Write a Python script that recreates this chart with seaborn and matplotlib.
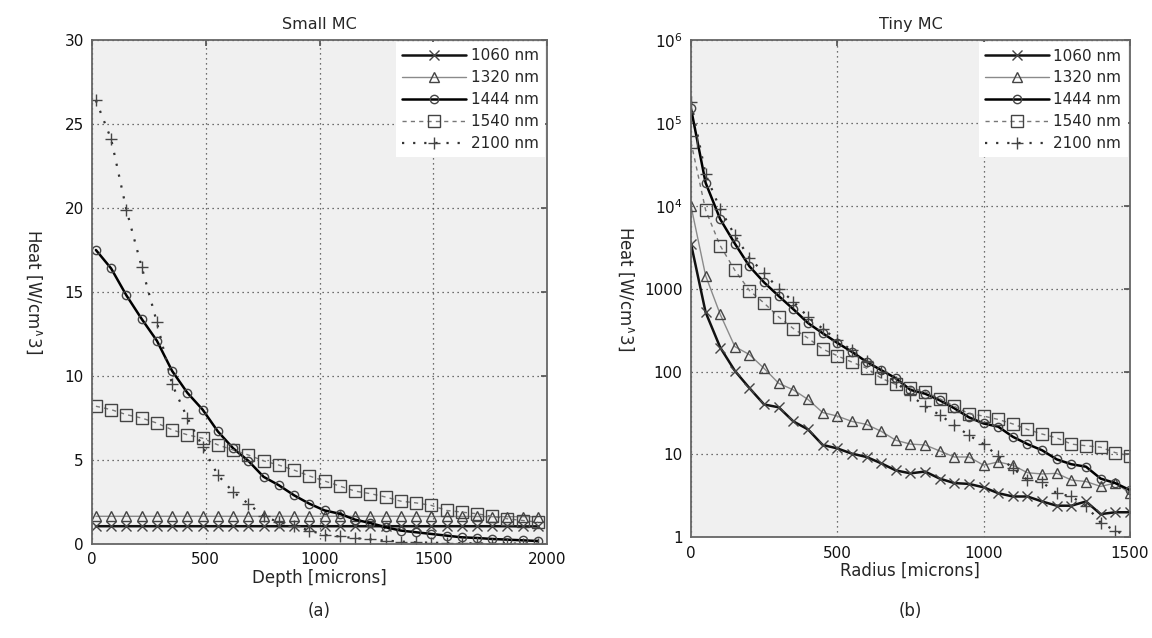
import matplotlib
matplotlib.use("Agg")
import matplotlib.pyplot as plt
import seaborn as sns

# ---- data ----
labels = ["1060 nm", "1320 nm", "1444 nm", "1540 nm", "2100 nm"]

# (a) Small MC, depth in microns
depth = [17, 84, 151, 218, 285, 352, 419, 486, 553, 620,
         687, 754, 821, 888, 955, 1022, 1089, 1156, 1223, 1290,
         1357, 1424, 1491, 1558, 1625, 1692, 1759, 1826, 1893, 1960]
small_1060 = [1.06, 1.06, 1.06, 1.06, 1.06, 1.06, 1.06, 1.06, 1.06, 1.06,
              1.06, 1.06, 1.06, 1.06, 1.06, 1.06, 1.06, 1.06, 1.06, 1.06,
              1.06, 1.06, 1.06, 1.06, 1.06, 1.06, 1.06, 1.06, 1.05, 1.05]
small_1320 = [1.65, 1.65, 1.65, 1.65, 1.65, 1.65, 1.65, 1.65, 1.65, 1.65,
              1.65, 1.65, 1.65, 1.65, 1.65, 1.65, 1.65, 1.65, 1.65, 1.65,
              1.65, 1.65, 1.64, 1.64, 1.64, 1.64, 1.63, 1.63, 1.63, 1.63]
small_1444 = [17.5, 16.4, 14.8, 13.4, 12.1, 10.3, 9.0, 8.0, 6.7, 5.7,
              4.95, 4.0, 3.5, 2.9, 2.4, 2.0, 1.8, 1.45, 1.25, 1.0,
              0.8, 0.7, 0.6, 0.5, 0.4, 0.36, 0.3, 0.26, 0.22, 0.18]
small_1540 = [8.2, 8.0, 7.7, 7.5, 7.2, 6.8, 6.5, 6.3, 5.9, 5.6,
              5.3, 4.95, 4.7, 4.4, 4.05, 3.75, 3.45, 3.15, 3.0, 2.8,
              2.55, 2.45, 2.3, 2.0, 1.9, 1.8, 1.65, 1.5, 1.4, 1.3]
small_2100 = [26.4, 24.1, 19.9, 16.5, 13.2, 9.5, 7.5, 5.8, 4.1, 3.1,
              2.4, 1.65, 1.3, 1.1, 0.8, 0.55, 0.45, 0.35, 0.28, 0.2,
              0.15, 0.1, 0.08, 0.06, 0.05, 0.04, 0.03, 0.03, 0.02, 0.02]

# (b) Tiny MC, radius in microns
radius = [0, 50, 100, 150, 200, 250, 300, 350, 400, 450,
          500, 550, 600, 650, 700, 750, 800, 850, 900, 950,
          1000, 1050, 1100, 1150, 1200, 1250, 1300, 1350, 1400, 1450, 1500]
tiny_1060 = [3500, 520, 195, 102, 63, 40, 37, 25, 20, 13,
             11.8, 10.2, 9.3, 7.8, 6.4, 5.9, 6.2, 5.1, 4.5, 4.4,
             4.0, 3.4, 3.1, 3.1, 2.7, 2.4, 2.4, 2.7, 1.9, 2.0, 2.0]
tiny_1320 = [10000, 1440, 490, 200, 160, 109, 72, 60, 46, 32,
             29, 25, 23, 19, 14.8, 13.3, 13, 11, 9.3, 9.3,
             7.4, 8.1, 7.4, 6.0, 5.8, 5.9, 4.9, 4.7, 4.1, 4.5, 3.4]
tiny_1444 = [150000, 19000, 6900, 3500, 1860, 1190, 815, 565, 385, 290,
             222, 173, 131, 104, 83, 60, 54, 45, 36, 28,
             23.6, 21.6, 16.3, 13.3, 11.2, 8.7, 7.6, 7.1, 5.1, 4.5, 3.7]
tiny_1540 = [59000, 8900, 3300, 1670, 950, 670, 455, 330, 253, 187,
             155, 130, 110, 83, 70, 64, 57, 47, 38, 31,
             29, 26.4, 23.3, 20, 17.6, 15.8, 13.3, 12.7, 12.2, 10.5, 9.6]
tiny_2100 = [180000, 24000, 9100, 4400, 2350, 1540, 1000, 700, 455, 330,
             240, 180, 135, 100, 75, 52, 38, 30, 22.5, 17,
             13.3, 9.5, 6.8, 4.9, 4.6, 3.4, 3.1, 2.4, 1.5, 1.2, 1.0]

log_ticks = [1, 10, 100, 1000, 1e4, 1e5, 1e6]
log_tick_labels = ["1", "10", "100", "1000", "$10^4$", "$10^5$", "$10^6$"]

# ---- styling ----
sns.set_theme(style="white")
plt.rcParams["font.family"] = ["DejaVu Sans"]
plt.rcParams["mathtext.default"] = "regular"

styles = [
    dict(color="#111111", linestyle="-", linewidth=1.8, marker="x", markersize=7),
    dict(color="#8a8a8a", linestyle="-", linewidth=1.0, marker="^", markersize=7),
    dict(color="#000000", linestyle="-", linewidth=1.8, marker="o", markersize=6),
    dict(color="#777777", linestyle=(0, (3, 3)), linewidth=1.0, marker="s", markersize=8),
    dict(color="#333333", linestyle=(0, (1, 4)), linewidth=1.6, marker="+", markersize=9),
]


def style_axes(ax):
    ax.set_facecolor("#f0f0f0")
    for sp in ax.spines.values():
        sp.set_color("#666666")
        sp.set_linewidth(1.3)
    ax.tick_params(direction="in", top=True, right=True, length=4,
                   color="#555555", labelsize=11, labelcolor="#111111", pad=6)
    ax.grid(True, color="#444444", linestyle=(0, (1, 3)), linewidth=0.9)
    ax.set_axisbelow(True)


def draw_panel(ax, x, series):
    for lab, y, st in zip(labels, series, styles):
        sns.lineplot(x=x, y=y, ax=ax, label=lab, sort=False,
                     markerfacecolor="none", markeredgecolor="#444444",
                     markeredgewidth=1.0, **st)
    leg = ax.legend(loc="upper right", fontsize=11, frameon=True,
                    fancybox=False, framealpha=1, facecolor="white",
                    edgecolor="white", handlelength=4.2, borderaxespad=0.15,
                    labelspacing=0.45, handletextpad=0.3)
    leg.get_frame().set_linewidth(0)


fig = plt.figure(figsize=(11.52, 6.38), dpi=100)
ax1 = fig.add_axes([0.0799, 0.1473, 0.395, 0.790])
ax2 = fig.add_axes([0.5998, 0.158, 0.381, 0.779])

# (a)
draw_panel(ax1, depth, [small_1060, small_1320, small_1444, small_1540, small_2100])
style_axes(ax1)
ax1.set_xlim(0, 2000)
ax1.set_ylim(0, 30)
ax1.set_xticks([0, 500, 1000, 1500, 2000])
ax1.set_yticks([0, 5, 10, 15, 20, 25, 30])
ax1.set_title("Small MC", fontsize=11.5, pad=8)
ax1.set_xlabel("Depth [microns]", fontsize=12, labelpad=1)
ax1.set_ylabel("Heat [W/cm$^{\\wedge}$3]", fontsize=12, rotation=270)
ax1.yaxis.set_label_coords(-0.15, 0.5)

# (b)
draw_panel(ax2, radius, [tiny_1060, tiny_1320, tiny_1444, tiny_1540, tiny_2100])
style_axes(ax2)
ax2.set_yscale("log")
ax2.set_xlim(0, 1500)
ax2.set_ylim(1, 1e6)
ax2.set_xticks([0, 500, 1000, 1500])
ax2.set_yticks(log_ticks)
ax2.set_yticklabels(log_tick_labels)
ax2.minorticks_off()
ax2.set_title("Tiny MC", fontsize=11.5, pad=8)
ax2.set_xlabel("Radius [microns]", fontsize=12, labelpad=1)
ax2.set_ylabel("Heat [W/cm$^{\\wedge}$3]", fontsize=12, rotation=270)
ax2.yaxis.set_label_coords(-0.17, 0.5)

fig.text(0.0799 + 0.395 / 2, 0.035, "(a)", ha="center", fontsize=12)
fig.text(0.5998 + 0.381 / 2, 0.035, "(b)", ha="center", fontsize=12)

fig.savefig("out.png", dpi=100, facecolor="white")
